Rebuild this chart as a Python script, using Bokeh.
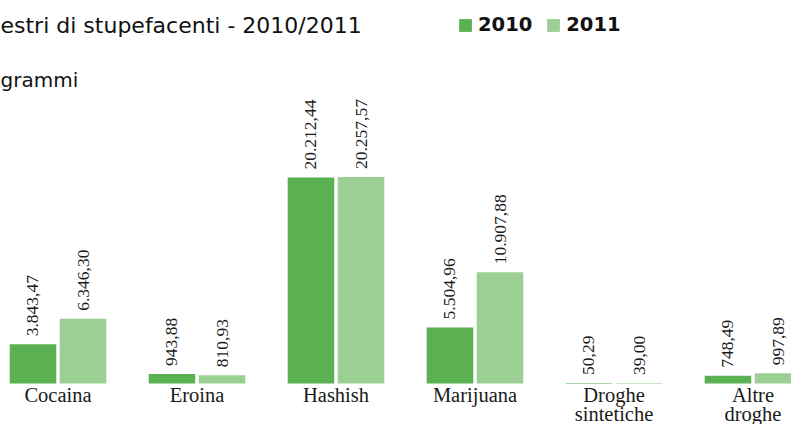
import math
from bokeh.plotting import figure
from bokeh.models import ColumnDataSource, Range1d, Label, Legend, LegendItem
from bokeh.transform import dodge
from bokeh.core.properties import value
from bokeh.embed import file_html
from bokeh.resources import INLINE

# ---- data ----
categories = ["Cocaina", "Eroina", "Hashish", "Marijuana", "Droghe\nsintetiche", "Altre\ndroghe"]
years = ["2010", "2011"]
v2010 = [3843.47, 943.88, 20212.44, 5504.96, 50.29, 748.49]
v2011 = [6346.30, 810.93, 20257.57, 10907.88, 39.00, 997.89]
title_text = "estri di stupefacenti - 2010/2011"
subtitle_text = "grammi"

c2010 = "#5bb052"
c2011 = "#9ccf94"


def it_fmt(v):
    s = f"{v:,.2f}"
    return s.replace(",", "#").replace(".", ",").replace("#", ".")


src = ColumnDataSource(dict(
    x=list(range(len(categories))),
    cat=categories,
    v2010=v2010,
    v2011=v2011,
    l2010=[it_fmt(v) for v in v2010],
    l2011=[it_fmt(v) for v in v2011],
))

W, H = 791, 424
p = figure(width=W, height=H, output_backend="svg", toolbar_location=None,
           x_range=Range1d(-0.4137, 5.277), y_range=Range1d(-4023, 37580),
           x_axis_location=None, y_axis_location=None, min_border=0)
p.grid.visible = False
p.outline_line_color = None
p.background_fill_color = "white"
p.border_fill_color = "white"

bw = 0.335
off = 0.18
r1 = p.vbar(x=dodge("x", -off, range=p.x_range), top="v2010", bottom=0, width=bw,
            source=src, fill_color=c2010, line_color=None)
r2 = p.vbar(x=dodge("x", off, range=p.x_range), top="v2011", bottom=0, width=bw,
            source=src, fill_color=c2011, line_color=None)

lab_font = value("Liberation Serif")
p.text(x=dodge("x", -off, range=p.x_range), y="v2010", text="l2010", source=src,
       angle=math.pi / 2, text_align="left", text_baseline="middle", y_offset=-8,
       text_font=lab_font, text_font_size="17.5px", text_color="#1a1a1a")
p.text(x=dodge("x", off, range=p.x_range), y="v2011", text="l2011", source=src,
       angle=math.pi / 2, text_align="left", text_baseline="middle", y_offset=-8,
       text_font=lab_font, text_font_size="17.5px", text_color="#1a1a1a")

p.text(x="x", y=0, text="cat", source=src, text_align="center", text_baseline="top",
       y_offset=1, text_font=lab_font, text_font_size="20.5px", text_line_height=0.85,
       text_color="#1a1a1a")

p.add_layout(Label(x=0, y=399, x_units="screen", y_units="screen", text=title_text,
                   text_font="DejaVu Sans", text_font_size="22px", text_color="#111111",
                   text_baseline="alphabetic"))
p.add_layout(Label(x=0, y=345, x_units="screen", y_units="screen", text=subtitle_text,
                   text_font="DejaVu Sans", text_font_size="20px", text_color="#111111",
                   text_baseline="alphabetic"))

legend = Legend(items=[LegendItem(label=years[0], renderers=[r1]),
                       LegendItem(label=years[1], renderers=[r2])],
                location=(457, 388), orientation="horizontal",
                padding=0, margin=0, spacing=13, label_standoff=5,
                glyph_width=16, glyph_height=16,
                label_text_font="DejaVu Sans", label_text_font_style="bold",
                label_text_font_size="19.5px", label_text_color="#111111",
                border_line_alpha=0, background_fill_alpha=0)
p.add_layout(legend, "center")

open("out.html", "w").write(file_html(p, INLINE))
